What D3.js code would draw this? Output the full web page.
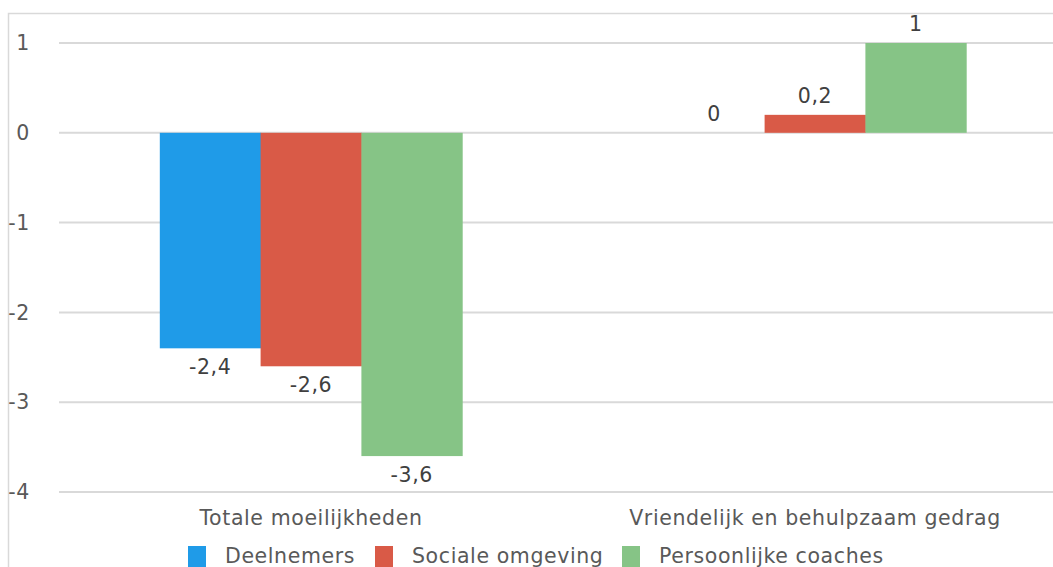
<!DOCTYPE html>
<html>
<head>
<meta charset="utf-8">
<script src="https://cdn.jsdelivr.net/npm/d3@7"></script>
<style>
  html, body { margin: 0; padding: 0; background: #fff; }
  svg { display: block; }
  text { font-family: "DejaVu Sans", sans-serif; letter-spacing: 0.6px; }
</style>
</head>
<body>
<svg id="chart" width="1053" height="567"></svg>
<script>
const categories = ["Totale moeilijkheden", "Vriendelijk en behulpzaam gedrag"];
const seriesNames = ["Deelnemers", "Sociale omgeving", "Persoonlijke coaches"];
const deelnemers = [-2.4, 0];
const socialeOmgeving = [-2.6, 0.2];
const persoonlijkeCoaches = [-3.6, 1];
const yTicks = [-4, -3, -2, -1, 0, 1];
const colors = ["#1f9be8", "#d95a47", "#86c486"];

const seriesValues = [deelnemers, socialeOmgeving, persoonlijkeCoaches];

const svg = d3.select("#chart");
const W = 1053, H = 567;
const FS = 20.5;

// chart frame
svg.append("path")
  .attr("d", `M8.5,${H} V13.5 H${W}`)
  .attr("fill", "none").attr("stroke", "#d9d9d9").attr("stroke-width", 1.5);

const y = d3.scaleLinear().domain([-4, 1]).range([492, 43]);
const x0 = d3.scaleBand().domain(categories).range([59, 1067]).padding(0);
const x1 = d3.scaleBand().domain(seriesNames)
  .range([x0.bandwidth() * 0.2, x0.bandwidth() * 0.8]).padding(0);

const fmt = v => String(v).replace(".", ",");

// gridlines
svg.append("g").selectAll("line").data(yTicks).join("line")
  .attr("x1", 59).attr("x2", W)
  .attr("y1", d => y(d)).attr("y2", d => y(d))
  .attr("stroke", "#d9d9d9").attr("stroke-width", 2);

// y tick labels
svg.append("g").selectAll("text").data(yTicks).join("text")
  .attr("x", 30).attr("y", d => y(d))
  .attr("dy", "0.35em").attr("text-anchor", "end")
  .attr("font-size", FS).attr("fill", "#595959")
  .text(d => fmt(d));

// bars
const groups = svg.append("g").selectAll("g").data(categories).join("g")
  .attr("transform", d => `translate(${x0(d)},0)`);

groups.each(function(cat, ci) {
  const g = d3.select(this);
  const rows = seriesNames.map((s, si) => ({ s, si, v: seriesValues[si][ci] }));
  g.selectAll("rect").data(rows).join("rect")
    .attr("x", d => x1(d.s))
    .attr("width", x1.bandwidth() + 0.5)
    .attr("y", d => Math.min(y(d.v), y(0)))
    .attr("height", d => Math.abs(y(d.v) - y(0)))
    .attr("fill", d => colors[d.si]);
  g.selectAll("text").data(rows).join("text")
    .attr("x", d => x1(d.s) + x1.bandwidth() / 2)
    .attr("y", d => d.v < 0 ? y(d.v) + 19 : y(d.v) - 19)
    .attr("dy", "0.35em").attr("text-anchor", "middle")
    .attr("font-size", FS).attr("fill", "#404040")
    .text(d => fmt(d.v));
});

// category labels
svg.append("g").selectAll("text").data(categories).join("text")
  .attr("x", d => x0(d) + x0.bandwidth() / 2).attr("y", 518)
  .attr("dy", "0.35em").attr("text-anchor", "middle")
  .attr("font-size", FS).attr("fill", "#595959")
  .text(d => d);

// legend
const legendX = [188, 375, 622];
const legend = svg.append("g").selectAll("g").data(seriesNames).join("g")
  .attr("transform", (d, i) => `translate(${legendX[i]},546)`);
legend.append("rect").attr("width", 18).attr("height", 21)
  .attr("fill", (d, i) => colors[i]);
legend.append("text").attr("x", 37).attr("y", 10)
  .attr("dy", "0.35em").attr("font-size", FS).attr("fill", "#595959")
  .text(d => d);
</script>
</body>
</html>
